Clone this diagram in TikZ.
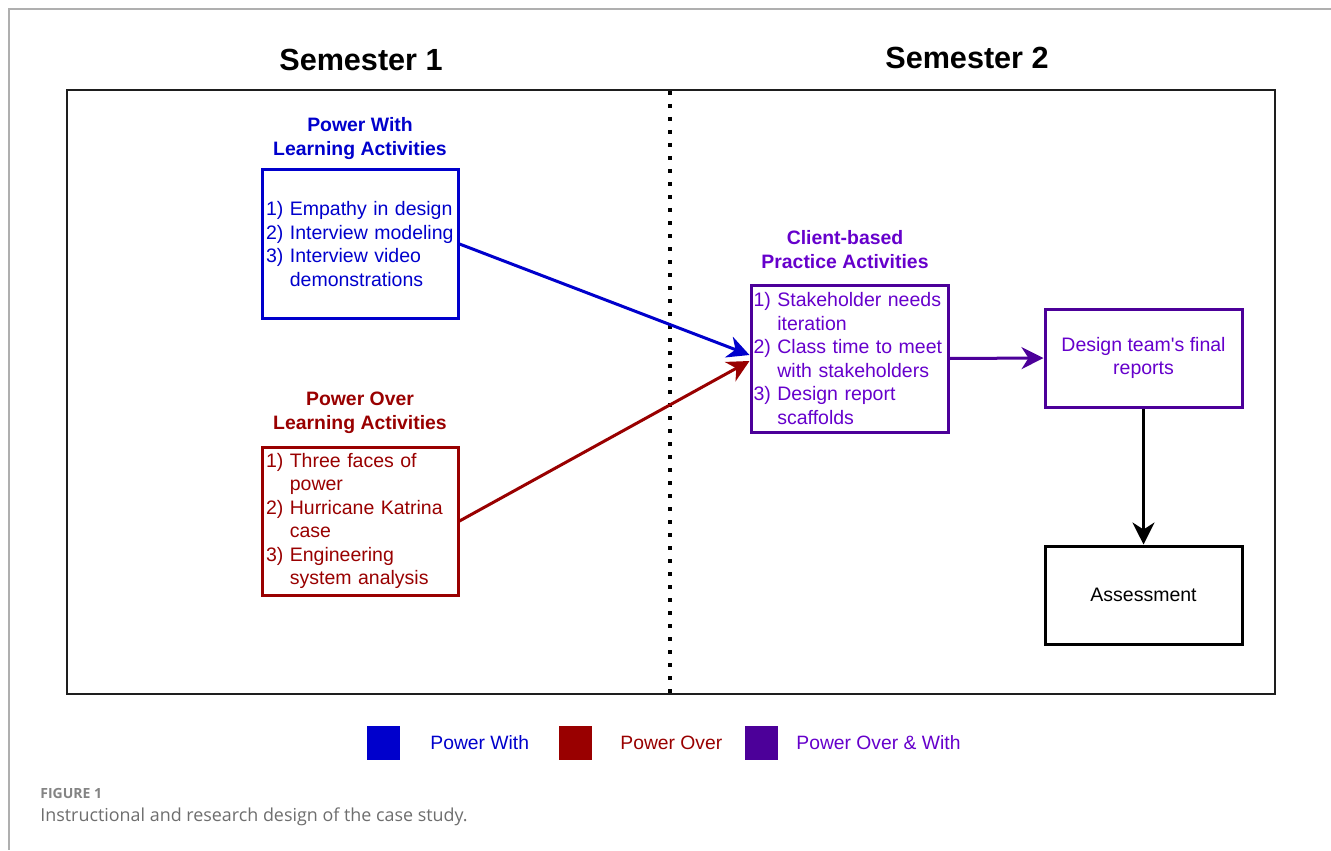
\documentclass[tikz,border=0pt]{standalone}
\usepackage{fontspec}
\setmainfont{Liberation Sans}
\newfontfamily\capfont{Open Sans}
\usetikzlibrary{arrows.meta}
\newcommand\HangGap{\hphantom{0)\ }}

\begin{document}
\begin{tikzpicture}[
		x=0.5pt, y=-0.5pt,
		every node/.style={inner sep=0pt},
		semtitle/.style={font=\fontsize{15.3}{18}\selectfont\bfseries},
		grptitle/.style={font=\fontsize{9.7}{12}\selectfont\bfseries, align=center},
		actbox/.style={draw, line width=1.5pt, minimum width=98pt,
			minimum height=74pt, text width=94pt, align=left,
			font=\fontsize{9.75}{11.75}\selectfont},
		outbox/.style={draw, line width=1.5pt, minimum width=98.5pt,
			minimum height=49pt, align=center,
			font=\fontsize{9.75}{11.75}\selectfont},
		keybox/.style={minimum width=16.5pt, minimum height=17pt},
		keytext/.style={anchor=west, font=\fontsize{9.65}{12}\selectfont},
		flow/.style={line width=1.5pt,
			-{Stealth[length=11pt,width=11pt,inset=3.5pt]}}
	]
		\definecolor{ColWith}{RGB}{0,0,204}
		\definecolor{ColOver}{RGB}{153,0,0}
		\definecolor{ColBoth}{RGB}{76,0,153}
		\definecolor{ColBothTxt}{RGB}{102,0,204}
		\definecolor{ColFrame}{RGB}{30,30,30}
		\definecolor{ColPage}{RGB}{175,175,175}
		\definecolor{ColCap}{RGB}{110,110,110}
		\useasboundingbox (0,0) rectangle (1331,850);
		\fill[white] (0,0) rectangle (1331,850);
		% page rule
		\draw[ColPage, line width=1pt] (1331,9) -- (9,9) -- (9,850);
		% semesters
		\node[semtitle] (sem1) at (361,60) {Semester 1};
		\node[semtitle] (sem2) at (967,58) {Semester 2};
		\draw[ColFrame, line width=1pt] (67,90) rectangle (1275,694);
		\draw[line width=2pt, dash pattern=on 2pt off 4.5pt]
			(670,91) -- (670,694);
		% semester 1 activities
		\node[grptitle, ColWith] (pwTitle) at (360,139)
			{Power With\\Learning Activities};
		\node[actbox, ColWith] (pwBox) at (360,244)
			{1) Empathy in design\\2) Interview modeling\\3) Interview video\\\HangGap demonstrations};
		\node[grptitle, ColOver] (poTitle) at (360,413)
			{Power Over\\Learning Activities};
		\node[actbox, ColOver] (poBox) at (360,521)
			{1) Three faces of\\\HangGap power\\2) Hurricane Katrina\\\HangGap case\\3) Engineering\\\HangGap system analysis};
		% semester 2 activities
		\node[grptitle, ColBothTxt] (cbTitle) at (845,250)
			{Client-based\\Practice Activities};
		\node[actbox, draw=ColBoth, text=ColBothTxt, minimum width=98.5pt,
			minimum height=73.5pt, text width=96pt] (cbBox) at (849.5,358.5)
			{1) Stakeholder needs\\\HangGap iteration\\2) Class time to meet\\\HangGap with stakeholders\\3) Design report\\\HangGap scaffolds};
		\node[outbox, draw=ColBoth, text=ColBothTxt] (finalBox) at (1143.5,358)
			{Design team\textquotesingle s final\\reports};
		\node[outbox, draw=black] (assessBox) at (1143.5,595)
			{Assessment};
		% connectors
		\draw[flow, ColWith] (pwBox.east) -- ([yshift=1.75pt]cbBox.west);
		\draw[flow, ColOver] (poBox.east) -- ([yshift=-1.25pt]cbBox.west);
		\draw[flow, ColBoth] (cbBox.east) -- (finalBox.west);
		\draw[flow, black] (finalBox.south) -- (assessBox.north);
		% legend
		\node[keybox, fill=ColWith] (keyWith) at (383.5,743) {};
		\node[keytext, ColWith] (keyWithTxt) at (430,743) {Power With};
		\node[keybox, fill=ColOver] (keyOver) at (575,743) {};
		\node[keytext, ColOver] (keyOverTxt) at (620,743) {Power Over};
		\node[keybox, fill=ColBoth] (keyBoth) at (761,743) {};
		\node[keytext, ColBothTxt] (keyBothTxt) at (796,743) {Power Over \& With};
		% caption
		\node[anchor=west, text=ColCap!85,
			font=\capfont\fontsize{7}{8}\selectfont\bfseries] (figNum) at (40,793)
			{FIGURE 1};
		\node[anchor=west, text=ColCap,
			font=\capfont\fontsize{8.95}{10}\selectfont] (figCap) at (40,817)
			{Instructional and research design of the case study.};
	\end{tikzpicture}
\end{document}
